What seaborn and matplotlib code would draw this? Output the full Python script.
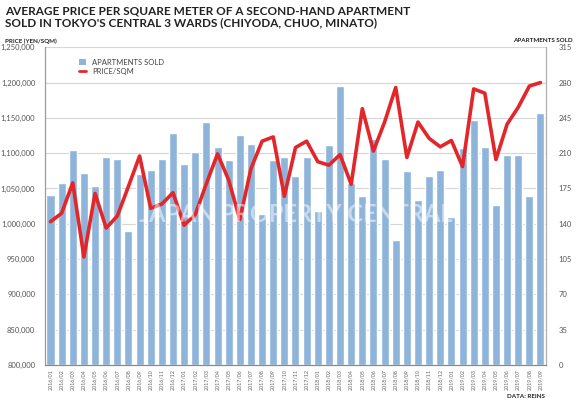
import matplotlib.pyplot as plt
import pandas as pd
import seaborn as sns
from matplotlib.lines import Line2D
from matplotlib.patches import Patch

months = [f"{y}/{m:02d}" for y in range(2016, 2020) for m in range(1, 13)][:45]

apartments_sold = [169, 180, 213, 190, 177, 206, 204, 133, 189, 193, 204, 230,
                   199, 211, 241, 216, 203, 228, 219, 150, 203, 206, 187, 206,
                   153, 218, 277, 180, 168, 224, 204, 124, 192, 164, 187, 193,
                   147, 215, 243, 216, 159, 208, 208, 168, 250]

price_per_sqm = [1003000, 1015000, 1058000, 953000, 1043000, 994000, 1011000, 1053000, 1096000, 1022000, 1028000, 1044000,
                 998000, 1013000, 1057000, 1099000, 1062000, 1006000, 1078000, 1117000, 1123000, 1039000, 1108000, 1117000,
                 1088000, 1083000, 1098000, 1056000, 1163000, 1103000, 1144000, 1193000, 1094000, 1144000, 1121000, 1109000,
                 1118000, 1081000, 1191000, 1185000, 1091000, 1141000, 1165000, 1195000, 1200000]

price_ticks = list(range(800000, 1250001, 50000))
sold_ticks = list(range(0, 316, 35))

bar_color = '#8fb4da'
line_color = '#e3262a'

sns.set_style("white")
plt.rcParams['font.family'] = ['Lato', 'DejaVu Sans']

df = pd.DataFrame({'month': months, 'sold': apartments_sold, 'price': price_per_sqm})

fig, ax1 = plt.subplots(figsize=(5.76, 4.04), dpi=100)
fig.subplots_adjust(left=0.078, right=0.948, bottom=0.0965, top=0.883)
ax2 = ax1.twinx()

sns.barplot(data=df, x='month', y='sold', color=bar_color, saturation=1, width=0.72, ax=ax2, zorder=2)
sns.lineplot(data=df, x='month', y='price', color=line_color, linewidth=2.6, ax=ax1, sort=False)

# line above the bars
ax1.set_zorder(ax2.get_zorder() + 1)
ax1.patch.set_visible(False)

ax1.set_ylim(800000, 1250000)
ax2.set_ylim(0, 315)
ax1.set_xlim(-0.5, 44.5)

ax1.set_yticks(price_ticks)
ax1.set_yticklabels([f"{v:,}" for v in price_ticks])
ax2.set_yticks(sold_ticks)

ax2.grid(axis='y', color='#d6d6d6', linewidth=0.8)
ax2.set_axisbelow(True)

for ax in (ax1, ax2):
    ax.set_xlabel('')
    ax.set_ylabel('')
    ax.spines['top'].set_visible(False)
    ax.spines['left'].set_color('#9a9a9a')
    ax.spines['right'].set_color('#b0b0b0')
    ax.spines['bottom'].set_color('#8a8a8a')

ax1.tick_params(axis='y', length=0, pad=7, labelsize=5.5, labelcolor='#555555')
ax2.tick_params(axis='y', length=0, pad=9, labelsize=5.5, labelcolor='#555555')
ax1.tick_params(axis='x', length=0, pad=3, labelsize=3.9, labelcolor='#666666', labelrotation=90)

handles = [Patch(facecolor=bar_color, edgecolor='none'), Line2D([0], [0], color=line_color, linewidth=2)]
ax1.legend(handles, ['APARTMENTS SOLD', 'PRICE/SQM'], loc='upper left', bbox_to_anchor=(0.055, 0.985),
           frameon=False, fontsize=5.5, handlelength=0.9, handleheight=0.9, labelspacing=0.3,
           handletextpad=0.8, labelcolor='#444444')

ax1.text(0.5, 0.475, 'JAPAN PROPERTY CENTRAL', transform=ax1.transAxes, ha='center', va='center',
         fontsize=17, fontweight='bold', color='white', alpha=0.5, zorder=5)

fig.text(5 / 576, 1 - 5 / 404,
         "AVERAGE PRICE PER SQUARE METER OF A SECOND-HAND APARTMENT\nSOLD IN TOKYO'S CENTRAL 3 WARDS (CHIYODA, CHUO, MINATO)",
         ha='left', va='top', fontsize=8.5, fontweight='bold', color='#222222', linespacing=1.15)
fig.text(5 / 576, 1 - 41 / 404, 'PRICE (YEN/SQM)', ha='left', va='center', fontsize=4.5, fontweight='bold', color='#222222')
fig.text(573 / 576, 1 - 41 / 404, 'APARTMENTS SOLD', ha='right', va='center', fontsize=4.5, fontweight='bold', color='#222222')
fig.text(545 / 576, 1 - 396 / 404, 'DATA: REINS', ha='right', va='center', fontsize=4.5, fontweight='bold', color='#222222')

plt.savefig('out.png', dpi=100)
plt.close()
